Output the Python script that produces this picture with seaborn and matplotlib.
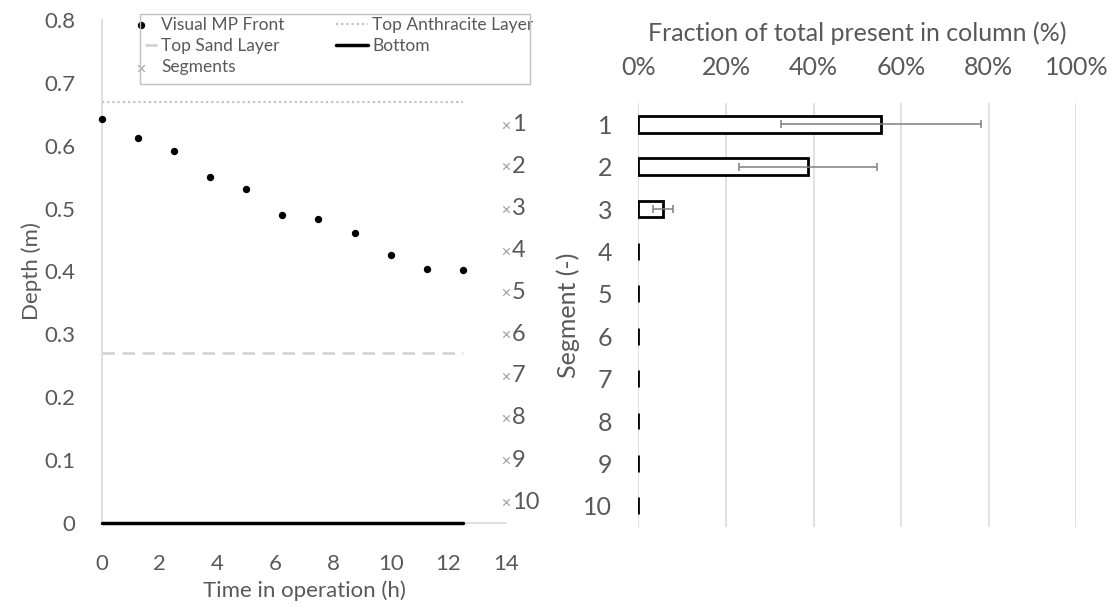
import numpy as np
import pandas as pd
import matplotlib
matplotlib.use("Agg")
import matplotlib.pyplot as plt
import seaborn as sns
from matplotlib.ticker import FuncFormatter
from matplotlib.patches import Rectangle

# ---------------- data ----------------
time_h = [0, 1.25, 2.5, 3.75, 5, 6.25, 7.5, 8.75, 10, 11.25, 12.5]
mp_front_depth = [0.643, 0.612, 0.592, 0.551, 0.531, 0.490, 0.483, 0.461, 0.427, 0.404, 0.403]

layer_time = [0, 12.5]
anthracite_depth = [0.67, 0.67]
sand_depth = [0.27, 0.27]
bottom_depth = [0.0, 0.0]

segment_names = ["1", "2", "3", "4", "5", "6", "7", "8", "9", "10"]
segment_time = [14] * 10
segment_depth = [0.633, 0.567, 0.500, 0.433, 0.367, 0.300, 0.234, 0.167, 0.100, 0.033]

fraction_pct = [55.4, 38.7, 5.6, 0, 0, 0, 0, 0, 0, 0]
fraction_err = [22.8, 15.8, 2.3, 0, 0, 0, 0, 0, 0, 0]

x_ticks_left = [0, 2, 4, 6, 8, 10, 12, 14]
y_ticks_left = [0, 0.1, 0.2, 0.3, 0.4, 0.5, 0.6, 0.7, 0.8]
x_ticks_right = [0, 20, 40, 60, 80, 100]

# ---------------- style ----------------
sns.set_theme(style="white")
plt.rcParams["font.family"] = ["Lato", "DejaVu Sans"]
TXT = "#595959"
GRID = "#d9d9d9"
FS = 16
FSR = 18
W, H = 1120, 607

fig = plt.figure(figsize=(11.2, 6.07), dpi=100)
axL = fig.add_axes([0.0911, 0.1384, 0.3607, 0.8287])
axR = fig.add_axes([0.570, 0.1318, 0.391, 0.6985])

# ---------------- left chart ----------------
sns.lineplot(x=layer_time, y=anthracite_depth, ax=axL, color="#bfbfbf",
             linestyle=(0, (1, 1.5)), linewidth=1.5, label="Top Anthracite Layer")
sns.lineplot(x=layer_time, y=sand_depth, ax=axL, color="#d0d0d0",
             linestyle=(0, (5, 3)), linewidth=1.8, label="Top Sand Layer")
sns.lineplot(x=layer_time, y=bottom_depth, ax=axL, color="black",
             linewidth=2.5, label="Bottom")
axL.lines[-1].set_zorder(4)
axL.lines[-1].set_clip_on(False)
sns.scatterplot(x=time_h, y=mp_front_depth, ax=axL, color="black", s=28,
                edgecolor="black", linewidth=0, label="Visual MP Front",
                clip_on=False, zorder=5)
sns.scatterplot(x=segment_time, y=segment_depth, ax=axL, marker="x",
                color="#a6a6a6", s=22, linewidth=0.9, label="Segments",
                clip_on=False, zorder=5)
for t, d, name in zip(segment_time, segment_depth, segment_names):
    axL.annotate(name, (t, d), xytext=(4, 0), textcoords="offset points",
                 ha="left", va="center", fontsize=17, color=TXT,
                 annotation_clip=False)

axL.set_xlim(0, 14)
axL.set_ylim(0, 0.8)
axL.set_xticks(x_ticks_left)
axL.set_yticks(y_ticks_left)
axL.set_yticklabels([("%g" % v) for v in y_ticks_left])
axL.tick_params(axis="both", length=0, labelsize=FS, labelcolor=TXT)
axL.tick_params(axis="y", pad=19)
axL.tick_params(axis="x", pad=22)
for s in ["top", "right"]:
    axL.spines[s].set_visible(False)
for s in ["left", "bottom"]:
    axL.spines[s].set_color(GRID)
    axL.spines[s].set_linewidth(1.2)
axL.set_xlabel("Time in operation (h)", fontsize=FS, color=TXT, labelpad=5)
axL.set_ylabel("Depth (m)", fontsize=FS, color=TXT, labelpad=2)

handles, labels = axL.get_legend_handles_labels()
hmap = dict(zip(labels, handles))
col1 = ["Visual MP Front", "Top Sand Layer", "Segments"]
col2 = ["Top Anthracite Layer", "Bottom"]
leg_kw = dict(loc="upper left", bbox_transform=fig.transFigure, fontsize=12.5,
              frameon=False, handlelength=1.85, handletextpad=0.25,
              labelspacing=0.3, borderpad=0, borderaxespad=0)
frame = Rectangle((140 / W, 1 - 84 / H), 390 / W, 70 / H, transform=fig.transFigure,
                  fill=False, edgecolor="#bfbfbf", linewidth=1.0, zorder=10)
fig.add_artist(frame)
leg1 = axL.legend([hmap[k] for k in col1], col1,
                  bbox_to_anchor=(125 / W, 1 - 17 / H), **leg_kw)
axL.add_artist(leg1)
leg2 = axL.legend([hmap[k] for k in col2], col2,
                  bbox_to_anchor=(336 / W, 1 - 17 / H), **leg_kw)
for lg in (leg1, leg2):
    for t in lg.get_texts():
        t.set_color(TXT)
clip_rect = Rectangle((140 / W, 1 - 84 / H), 390 / W, 70 / H, transform=fig.transFigure)
for h in leg1.legend_handles:
    h.set_clip_path(clip_rect)

# ---------------- right chart ----------------
df = pd.DataFrame({"Segment": segment_names, "Fraction": fraction_pct})
sns.barplot(data=df, x="Fraction", y="Segment", orient="h", ax=axR,
            color="white", edgecolor="black", linewidth=2, width=0.4,
            order=segment_names, errorbar=None, zorder=3)
ypos = np.arange(len(segment_names))
nz = [i for i, e in enumerate(fraction_err) if e > 0]
axR.errorbar([fraction_pct[i] for i in nz], [ypos[i] for i in nz],
             xerr=[fraction_err[i] for i in nz], fmt="none", ecolor="#7f7f7f",
             elinewidth=1.1, capsize=3, capthick=1.1, zorder=4)

axR.set_xlim(0, 100)
axR.set_ylim(len(segment_names) - 0.5, -0.5)
axR.set_xticks(x_ticks_right)
axR.xaxis.set_major_formatter(FuncFormatter(lambda v, p: "%d%%" % v))
axR.xaxis.tick_top()
axR.xaxis.set_label_position("top")
axR.grid(axis="x", color=GRID, linewidth=1.1, zorder=0)
axR.grid(axis="y", visible=False)
axR.set_axisbelow(True)
for s in axR.spines.values():
    s.set_visible(False)
axR.tick_params(axis="both", length=0, labelsize=FSR, labelcolor=TXT)
axR.tick_params(axis="y", pad=19)
axR.tick_params(axis="x", pad=17)
axR.set_xlabel("Fraction of total present in column (%)", fontsize=FSR, color=TXT, labelpad=11)
axR.set_ylabel("Segment (-)", fontsize=FSR, color=TXT, labelpad=2)

fig.savefig("out.png", dpi=100)
